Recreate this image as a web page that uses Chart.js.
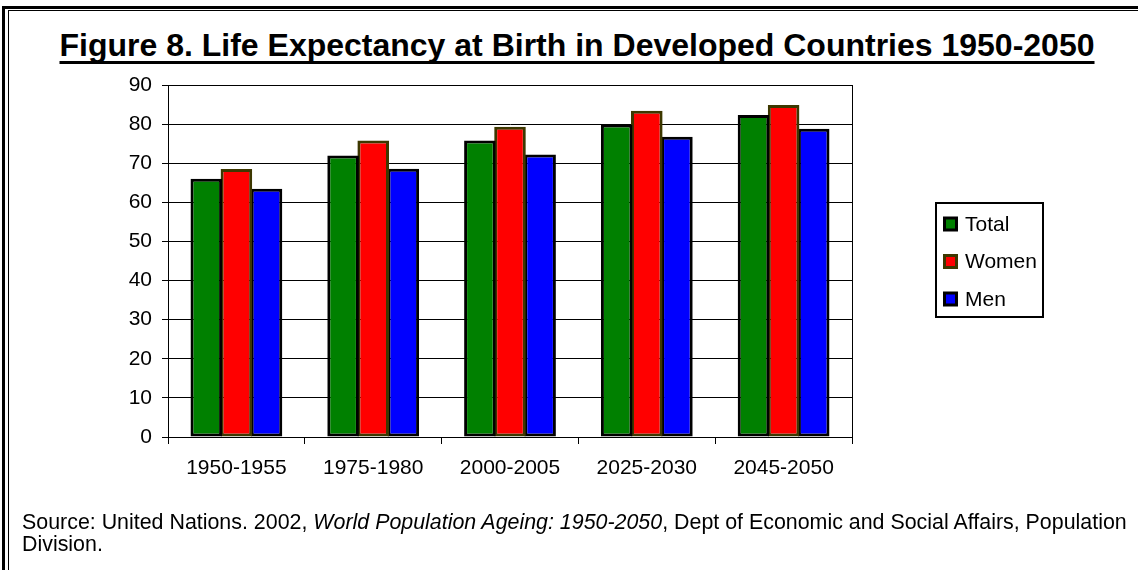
<!DOCTYPE html>
<html>
<head>
<meta charset="utf-8">
<script src="https://cdn.jsdelivr.net/npm/chart.js@4.4.0/dist/chart.umd.min.js"></script>
<style>
  html, body { margin: 0; padding: 0; background: #fff; }
  body { width: 1138px; height: 570px; position: relative; overflow: hidden; font-family: "Liberation Sans", Arial, sans-serif; }
  #myChart { position: absolute; left: 0; top: 0; }
  .edge { position: absolute; background: #000; }
  #title {
    position: absolute; left: 0; width: 1154px; top: 29px; text-align: center; white-space: nowrap;
    font-weight: bold; font-size: 32px; line-height: 32px;
    text-decoration: underline; text-decoration-thickness: 3px; text-underline-offset: 5px;
    text-decoration-skip-ink: none;
  }
  #source {
    position: absolute; left: 22px; top: 512px; font-size: 21.4px; line-height: 21.6px; white-space: nowrap;
  }
</style>
</head>
<body>
<div class="edge" style="left:2px; top:6px; width:3px; height:564px"></div>
<div class="edge" style="left:2px; top:6px; width:1136px; height:3px"></div>
<div class="edge" style="left:8px; top:10px; width:1px; height:560px"></div>
<div class="edge" style="left:8px; top:10px; width:1130px; height:1px"></div>
<div id="title">Figure 8. Life Expectancy at Birth in Developed Countries 1950-2050</div>
<canvas id="myChart" width="1138" height="570"></canvas>
<div id="source">Source: United Nations. 2002, <i>World Population Ageing: 1950-2050</i>, Dept of Economic and Social Affairs, Population<br>Division.</div>
<script>
const periods = ['1950-1955', '1975-1980', '2000-2005', '2025-2030', '2045-2050']
const total = [66.0, 72.0, 75.8, 79.9, 82.3]
const women = [68.5, 75.8, 79.3, 83.4, 84.9]
const men = [63.5, 68.6, 72.2, 76.8, 78.8]
const yTicks = [0, 10, 20, 30, 40, 50, 60, 70, 80, 90]

const font = { family: '"Liberation Sans", Arial, sans-serif', size: 21 }

// plot frame + boxed legend like the original Excel chart
const framePlugin = {
  id: 'frame',
  afterDraw(chart) {
    const ctx = chart.ctx
    const a = chart.chartArea
    ctx.save()
    ctx.strokeStyle = '#000'
    ctx.lineWidth = 1
    ctx.strokeRect(Math.round(a.left) + 0.5, Math.round(a.top) + 0.5, Math.round(a.right - a.left), Math.round(a.bottom - a.top))

    // legend
    const bx = 936, by = 203, bw = 107, bh = 114
    ctx.lineWidth = 2
    ctx.strokeRect(bx, by, bw, bh)
    ctx.font = '21px "Liberation Sans", Arial, sans-serif'
    ctx.textBaseline = 'middle'
    chart.data.datasets.forEach((ds, i) => {
      const cy = 224 + i * 37.5
      ctx.fillStyle = ds.borderColor
      ctx.fillRect(943, cy - 7.5, 15, 15)
      ctx.fillStyle = ds.backgroundColor
      ctx.fillRect(946, cy - 4.5, 9, 9)
      ctx.fillStyle = '#000'
      ctx.fillText(ds.label, 965, cy + 1)
    })
    ctx.restore()
  }
}

new Chart(document.getElementById('myChart'), {
  type: 'bar',
  data: {
    labels: periods,
    datasets: [{
      label: 'Total',
      data: total,
      backgroundColor: '#008000',
      borderColor: '#000000',
      borderWidth: 3,
      borderSkipped: false
    }, {
      label: 'Women',
      data: women,
      backgroundColor: '#ff0000',
      borderColor: '#3d3800',
      borderWidth: 3,
      borderSkipped: false
    }, {
      label: 'Men',
      data: men,
      backgroundColor: '#0000ff',
      borderColor: '#000000',
      borderWidth: 3,
      borderSkipped: false
    }]
  },
  plugins: [framePlugin],
  options: {
    responsive: false,
    animation: false,
    layout: { padding: { left: 0, top: 85, right: 286, bottom: 80 } },
    datasets: { bar: { categoryPercentage: 0.66, barPercentage: 1.05 } },
    plugins: {
      legend: { display: false },
      tooltip: { enabled: false }
    },
    scales: {
      x: {
        afterFit: s => { s.height = 53 },
        grid: { drawOnChartArea: false, color: '#000', tickLength: 7, offset: true },
        border: { color: '#000', width: 1 },
        ticks: { color: '#000', font: font, padding: 12, maxRotation: 0 }
      },
      y: {
        min: 0,
        max: 90,
        afterFit: s => { s.width = 168 },
        afterBuildTicks: s => { s.ticks = yTicks.map(v => ({ value: v })) },
        grid: { color: '#000', lineWidth: 1, tickLength: 6 },
        border: { color: '#000', width: 1 },
        ticks: { color: '#000', font: font, padding: 10 }
      }
    }
  }
})
</script>
</body>
</html>
